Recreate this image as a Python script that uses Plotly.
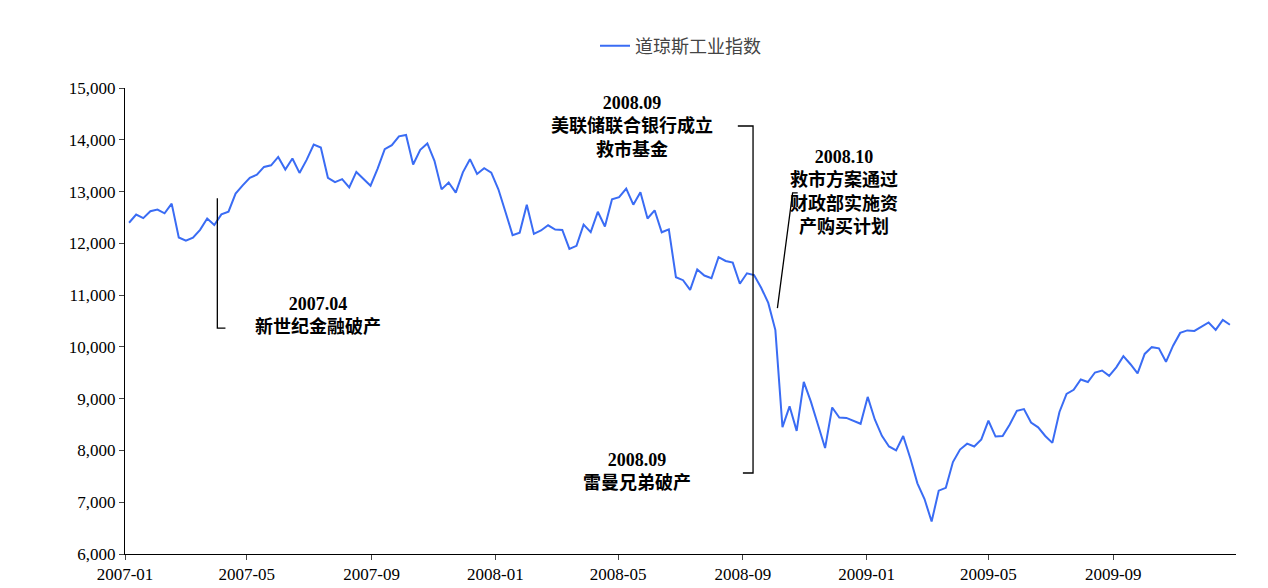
import pandas as pd
import plotly.graph_objects as go

# weekly closes of the Dow Jones index
dow = [
    12398, 12556, 12487, 12621,
    12653, 12580, 12767, 12114,
    12050, 12110, 12260, 12480, 12354,
    12560, 12612, 12961, 13120,
    13264, 13326, 13476, 13507,
    13668, 13424, 13639, 13360,
    13611, 13907, 13851, 13265,
    13182, 13239, 13079, 13379, 13238,
    13113, 13442, 13820, 13895,
    14066, 14093, 13522, 13806, 13930,
    13595, 13042, 13176, 12980, 13371,
    13625, 13339, 13450, 13365,
    13044, 12606, 12159, 12207, 12743,
    12182, 12248, 12348, 12266,
    12258, 11894, 11951, 12361, 12216,
    12609, 12325, 12849, 12891,
    13058, 12746, 12987, 12480,
    12638, 12213, 12269, 11346,
    11288, 11100, 11496, 11378,
    11326, 11734, 11659, 11628,
    11220, 11421, 11388, 11143, 10850,
    10325, 8451, 8852, 8378, 9325,
    8943, 8497, 8046, 8829,
    8635, 8629, 8579, 8515,
    9034, 8599, 8281, 8077, 8000,
    8280, 7850, 7365, 7062,
    6627, 7223, 7278, 7776,
    8017, 8131, 8076, 8212,
    8574, 8268, 8277, 8500,
    8764, 8799, 8539, 8447,
    8280, 8146, 8743, 9093, 9171,
    9370, 9321, 9505, 9544,
    9441, 9605, 9820, 9665,
    9487, 9864, 9995, 9972, 9712,
    10023, 10270, 10318, 10309,
    10388, 10471, 10329, 10520, 10428,
]
dates = pd.date_range("2007-01-05", periods=len(dow), freq="W-FRI")

# event callouts: text position and the leader line points
events = [
    ("<b>2007.04<br>新世纪金融破产</b>", "2007-07-10", 10600,
     ["2007-04-02", "2007-04-02", "2007-04-10"], [12870, 10363, 10363]),
    ("<b>2008.09<br>美联储联合银行成立<br>救市基金</b>", "2008-05-15", 14250,
     ["2008-08-27", "2008-09-11", "2008-09-11", "2008-09-01"], [14266, 14266, 7564, 7564]),
    ("<b>2008.10<br>救市方案通过<br>财政部实施资<br>产购买计划</b>", "2008-12-10", 13000,
     ["2008-10-25", "2008-10-20", "2008-10-05"], [12973, 12973, 10750]),
    ("<b>2008.09<br>雷曼兄弟破产</b>", "2008-05-20", 7600, [], []),
]

fig = go.Figure()
fig.add_trace(go.Scatter(x=dates, y=dow, mode="lines", name="道琼斯工业指数",
                         line=dict(color="#3a6cf4", width=2)))

for text, tx, ty, lx, ly in events:
    if lx:
        fig.add_trace(go.Scatter(x=lx, y=ly, mode="lines", showlegend=False,
                                 line=dict(color="black", width=1.3), hoverinfo="skip"))
    fig.add_annotation(x=tx, y=ty, text=text, showarrow=False, align="center",
                       font=dict(size=18, color="black",
                                 family="Liberation Serif, Noto Sans CJK SC"))

fig.update_layout(
    width=1268, height=588,
    margin=dict(l=117, r=40, t=80, b=42),
    paper_bgcolor="white", plot_bgcolor="white",
    font=dict(family="Liberation Serif, Noto Sans CJK SC", size=17, color="black"),
    showlegend=True,
    legend=dict(orientation="h", x=0.5, xanchor="center", y=1.09, yanchor="middle",
                font=dict(size=18, color="#444")),
    xaxis=dict(range=["2007-01-01", "2009-12-31"], tickformat="%Y-%m", dtick="M4",
               tick0="2007-01-01", showgrid=False, showline=True, linecolor="black",
               ticks="outside", ticklen=5),
    yaxis=dict(range=[6000, 15000], dtick=1000, tickformat=",", showgrid=False,
               showline=True, linecolor="black", ticks="outside", ticklen=5),
)

fig.write_html("out.html")
